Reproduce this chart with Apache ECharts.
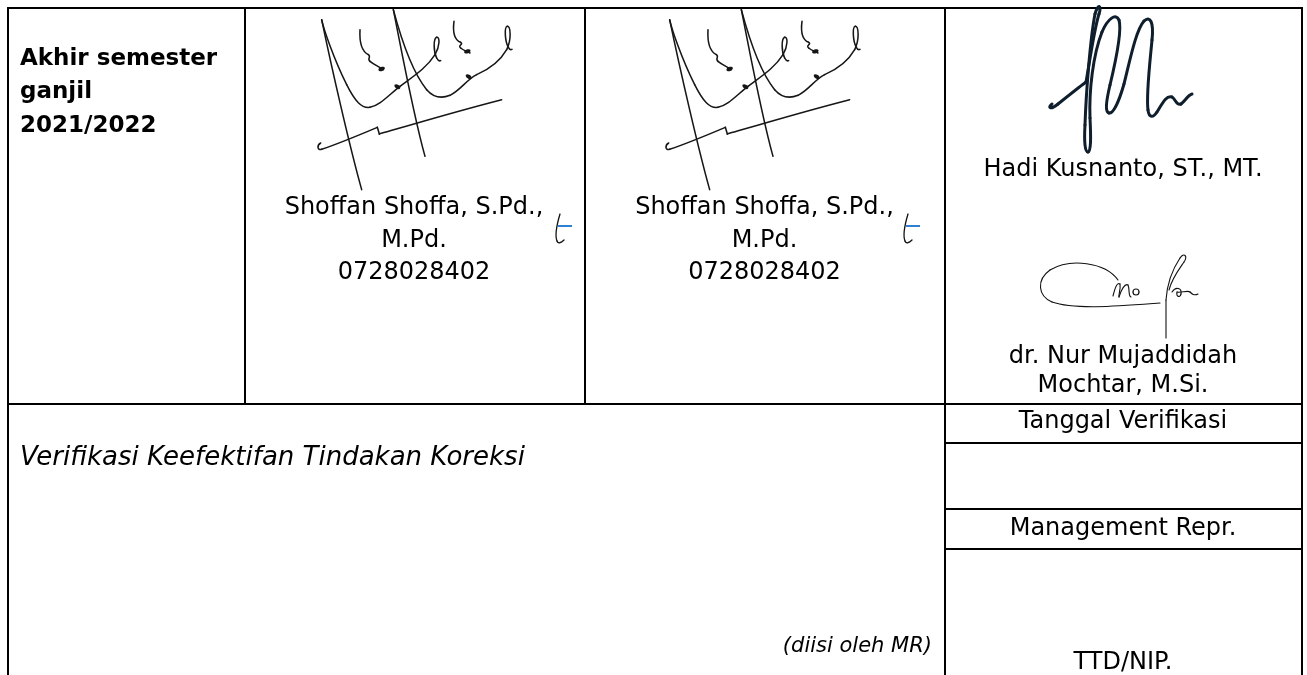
<!DOCTYPE html>
<html>
<head>
<meta charset="utf-8">
<script src="https://cdn.jsdelivr.net/npm/echarts@6/dist/echarts.min.js"></script>
<style>
html,body{margin:0;padding:0;background:#fff;}
#c{width:1307px;height:675px;}
</style>
</head>
<body>
<div id="c"></div>
<script>
// ---- content (texts) ----
const headerLines = ['Akhir semester', 'ganjil', '2021/2022'];
const signerA = ['Shoffan Shoffa, S.Pd.,', 'M.Pd.', '0728028402'];
const signerB = ['Shoffan Shoffa, S.Pd.,', 'M.Pd.', '0728028402'];
const signerC = ['Hadi Kusnanto, ST., MT.'];
const signerD = ['dr. Nur Mujaddidah', 'Mochtar, M.Si.'];
const rightLabels = ['Tanggal Verifikasi', 'Management Repr.', 'TTD/NIP.'];
const leftTitle = ['Verifikasi Keefektifan Tindakan Koreksi'];
const leftNote = ['(diisi oleh MR)'];

// ---- layout ----
const FONT = '"DejaVu Sans", Verdana, sans-serif';
const L = 8, R = 1302, T = 8, B = 675;
const colX = [245, 585, 945];
const midY = 404;
const rightRows = [443, 509, 549];

const chart = echarts.init(document.getElementById('c'), null, {renderer: 'canvas'});
const els = [];

function line(x1, y1, x2, y2, w, color) {
  els.push({type: 'line', shape: {x1, y1, x2, y2}, style: {stroke: color || '#000', lineWidth: w || 2}, silent: true});
}
function text(str, x, y, font, align, color) {
  els.push({type: 'text', x, y, silent: true,
    style: {text: str, font: font, fill: color || '#000',
      align: align, textAlign: align, verticalAlign: 'middle', textVerticalAlign: 'middle'}});
}
function parsePath(d) {
  const toks = d.match(/[MCL]|-?\d*\.?\d+/g);
  let i = 0, cmd = 'M', cx = 0, cy = 0; const segs = [];
  while (i < toks.length) {
    const t = toks[i];
    if (/[MCL]/.test(t)) { cmd = t; i++; continue; }
    if (cmd === 'M') { cx = +toks[i]; cy = +toks[i + 1]; i += 2; cmd = 'L'; }
    else if (cmd === 'L') { const x = +toks[i], y = +toks[i + 1]; i += 2; segs.push([cx, cy, cx, cy, x, y, x, y]); cx = x; cy = y; }
    else { const a = toks.slice(i, i + 6).map(Number); i += 6; segs.push([cx, cy, a[0], a[1], a[2], a[3], a[4], a[5]]); cx = a[4]; cy = a[5]; }
  }
  return segs;
}
function strokes(paths, color, lw) {
  const out = [];
  paths.forEach(d => parsePath(d).forEach(s => out.push({
    type: 'bezierCurve', silent: true,
    shape: {x1: s[0], y1: s[1], cpx1: s[2], cpy1: s[3], cpx2: s[4], cpy2: s[5], x2: s[6], y2: s[7]},
    style: {stroke: color, lineWidth: lw, fill: null, lineCap: 'round', lineJoin: 'round'}
  })));
  return out;
}

// ---- table lines ----
line(L - 1, T, R + 1, T);
line(L, T - 1, L, B);
line(R, T - 1, R, B);
line(colX[0], T, colX[0], midY);
line(colX[1], T, colX[1], midY);
line(colX[2], T, colX[2], B);
line(L, midY, R, midY);
rightRows.forEach(y => line(colX[2], y, R, y));

// ---- texts ----
const boldF = 'bold 23px ' + FONT, regF = '24px ' + FONT;
const headY = [59, 92.5, 126];
headerLines.forEach((s, k) => text(s, 20, headY[k], boldF, 'left'));
const sigY = [208, 240.5, 273];
signerA.forEach((s, k) => text(s, 414, sigY[k], regF, 'center'));
signerB.forEach((s, k) => text(s, 764.5, sigY[k], regF, 'center'));
const cx4 = 1123;
text(signerC[0], cx4, 170, regF, 'center');
text(signerD[0], cx4, 357, regF, 'center');
text(signerD[1], cx4, 386, regF, 'center');
text(rightLabels[0], cx4, 422, regF, 'center');
text(rightLabels[1], cx4, 529, regF, 'center');
text(rightLabels[2], cx4, 663, regF, 'center');
text(leftTitle[0], 20, 458, 'italic 26px ' + FONT, 'left');
text(leftNote[0], 932, 647, 'italic 21px ' + FONT, 'right');

// ---- signature of Shoffan (local coords, scaled 1/3) ----
const shoffanPaths = [
  'M65,35 C70,60 100,150 140,230 C165,280 185,302 210,298 C240,292 265,262 300,235 C340,205 380,180 405,140 C420,115 420,85 410,88 C400,92 400,130 410,150 C414,158 418,160 422,158',
  'M65,35 C95,180 150,420 185,545',
  'M280,5 C300,80 335,190 380,245 C400,268 425,272 450,262 C480,248 500,215 530,200 C565,185 600,160 620,125 C635,95 632,55 622,55 C612,57 615,100 625,118 C628,124 632,126 636,124',
  'M280,5 C305,130 340,320 375,445',
  'M180,65 C178,100 185,130 205,140 C215,146 200,152 210,160 C222,170 235,175 250,185',
  'M462,40 C458,70 462,95 482,103 C492,108 472,112 482,120 C490,127 500,130 510,135',
  'M62,405 C50,412 52,428 65,424 C120,405 180,380 232,358 L238,378 C300,360 450,315 605,275'
];
const blobs = [[292, 236, -35], [506, 206, -35], [245, 183, 20], [502, 130, 20]];
function shoffanGroup(ox) {
  const ch = strokes(shoffanPaths, '#161616', 4.6);
  blobs.forEach(b => ch.push({type: 'ellipse', silent: true, x: b[0], y: b[1], rotation: b[2] * Math.PI / 180,
    shape: {cx: 0, cy: 0, rx: 10, ry: 6}, style: {fill: '#161616'}}));
  els.push({type: 'group', x: ox, y: 8, scaleX: 1 / 3, scaleY: 1 / 3, silent: true, children: ch});
}
shoffanGroup(300);
shoffanGroup(648);

// small "t" marks
function tMark(dx) {
  els.push(...strokes(['M' + (560 + dx) + ',214 C' + (557 + dx) + ',224 ' + (555 + dx) + ',236 ' + (557 + dx) + ',241 C' + (558 + dx) + ',244 ' + (561 + dx) + ',243 ' + (564 + dx) + ',240'], '#111', 1.3));
  line(558 + dx, 226, 572 + dx, 226, 2, '#2f80d0');
}
tMark(0);
tMark(348);

// ---- signature of Hadi ----
const hadiPaths = [
  'M1052,104 C1047,108 1051,110 1058,104 C1068,96 1078,88 1086,82',
  'M1086,82 C1090,60 1094,30 1099,14 C1102,5 1098,3 1095,14 C1090,40 1086,95 1085,125 C1084,142 1085,152 1088,152 C1091,152 1091,138 1090,118 C1089,90 1093,55 1102,32 C1108,18 1116,13 1119,20 C1122,30 1116,60 1110,85 C1106,102 1105,112 1109,113 C1114,114 1120,98 1124,84',
  'M1124,84 C1130,60 1136,30 1144,21 C1150,15 1154,22 1152,40 C1150,62 1146,95 1148,110 C1149,118 1153,118 1157,112 C1162,104 1166,95 1172,97 C1176,99 1176,106 1181,104 C1185,101 1188,95 1192,94'
];
els.push(...strokes(hadiPaths, '#0f1e2d', 3));

// ---- signature of Nur Mujaddidah Mochtar ----
const nurPaths = [
  'M1118,280 C1105,262 1070,258 1050,270 C1036,280 1038,296 1052,302 C1075,310 1120,306 1160,303',
  'M1113,296 C1115,288 1117,282 1120,284 C1121,290 1118,296 1119,297 C1121,290 1125,283 1128,285 C1130,290 1128,296 1131,297',
  'M1133,292 C1133,288 1139,288 1139,292 C1139,296 1133,296 1133,292',
  'M1166,338 L1166,300 C1167,285 1172,270 1180,258 C1184,252 1188,256 1184,262 C1180,268 1172,278 1169,290',
  'M1172,292 C1176,286 1182,288 1181,294 C1180,298 1176,297 1177,292 C1181,293 1188,290 1190,292 C1192,294 1194,296 1198,294'
];
els.push(...strokes(nurPaths, '#111', 1.1));

chart.setOption({
  backgroundColor: '#ffffff',
  animation: false,
  graphic: {elements: els}
});
</script>
</body>
</html>
